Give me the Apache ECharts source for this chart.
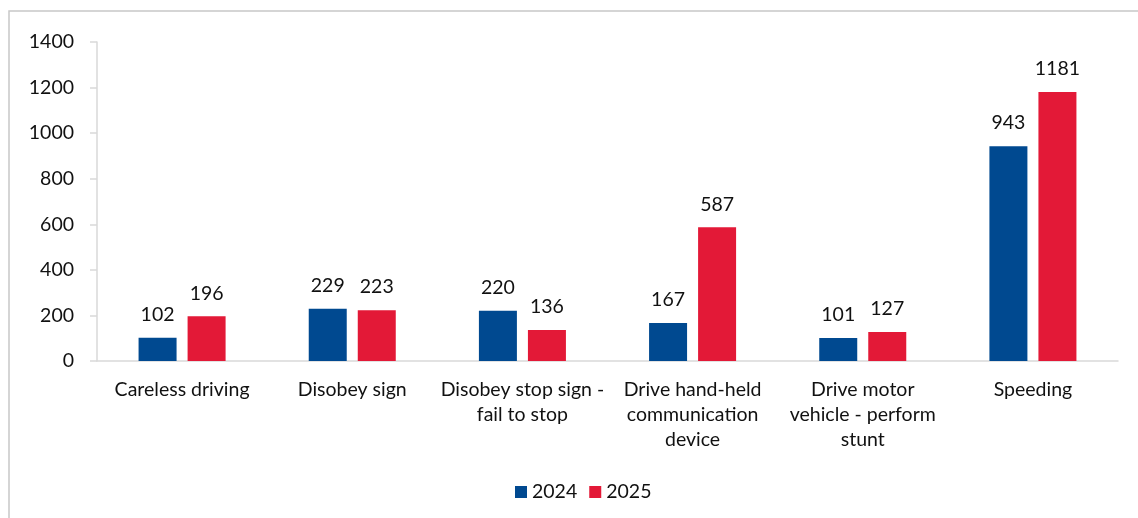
<!DOCTYPE html>
<html>
<head>
<meta charset="utf-8">
<script src="https://cdn.jsdelivr.net/npm/echarts@6/dist/echarts.min.js"></script>
<style>
  html, body { margin: 0; padding: 0; background: #fff; }
  #chart { width: 1138px; height: 518px; }
</style>
</head>
<body>
<div id="chart"></div>
<script>
// Offence categories and yearly counts
const categories = [
  'Careless driving',
  'Disobey sign',
  'Disobey stop sign -\nfail to stop',
  'Drive hand-held\ncommunication\ndevice',
  'Drive motor\nvehicle - perform\nstunt',
  'Speeding'
];
const values2024 = [102, 229, 220, 167, 101, 943];
const values2025 = [196, 223, 136, 587, 127, 1181];
const yTicks = { min: 0, max: 1400, interval: 200 };

const FONT = 'Lato, "Liberation Sans", sans-serif';
const TEXT = '#111111';
const SIZE = 19.5;

const chart = echarts.init(document.getElementById('chart'), null, { renderer: 'canvas' });

const labelStyle = {
  show: true,
  position: 'top',
  distance: 13,
  fontFamily: FONT,
  fontSize: SIZE,
  color: TEXT
};

chart.setOption({
  animation: false,
  backgroundColor: '#ffffff',
  graphic: [{
    type: 'rect',
    shape: { x: 9, y: 11, width: 1140, height: 520 },
    style: { fill: 'none', stroke: '#c8c8c8', lineWidth: 1.5 },
    silent: true
  }],
  grid: { left: 97, right: 20, top: 42, bottom: 157, containLabel: false },
  legend: {
    left: 510,
    top: 477,
    icon: 'rect',
    itemWidth: 12,
    itemHeight: 12,
    itemGap: 12,
    textStyle: { fontFamily: FONT, fontSize: SIZE, color: TEXT },
    data: ['2024', '2025']
  },
  xAxis: {
    type: 'category',
    data: categories,
    axisLine: { lineStyle: { color: '#d9d9d9', width: 1.5 } },
    axisTick: { show: false },
    axisLabel: {
      interval: 0,
      margin: 16,
      fontFamily: FONT,
      fontSize: SIZE,
      lineHeight: 25,
      color: TEXT,
      align: 'center',
      verticalAlign: 'top'
    },
    splitLine: { show: false }
  },
  yAxis: {
    type: 'value',
    min: yTicks.min,
    max: yTicks.max,
    interval: yTicks.interval,
    axisLine: { show: true, lineStyle: { color: '#d9d9d9', width: 1.5 } },
    axisTick: { show: true, length: 7, lineStyle: { color: '#d9d9d9', width: 1.5 } },
    axisLabel: {
      margin: 23,
      fontFamily: FONT,
      fontSize: SIZE,
      color: TEXT,
      formatter: v => String(v)
    },
    splitLine: { show: false }
  },
  series: [
    {
      name: '2024',
      type: 'bar',
      data: values2024,
      barWidth: 38,
      barGap: '29%',
      itemStyle: { color: '#004990' },
      label: labelStyle
    },
    {
      name: '2025',
      type: 'bar',
      data: values2025,
      barWidth: 38,
      itemStyle: { color: '#e31937' },
      label: labelStyle
    }
  ]
});
</script>
</body>
</html>
